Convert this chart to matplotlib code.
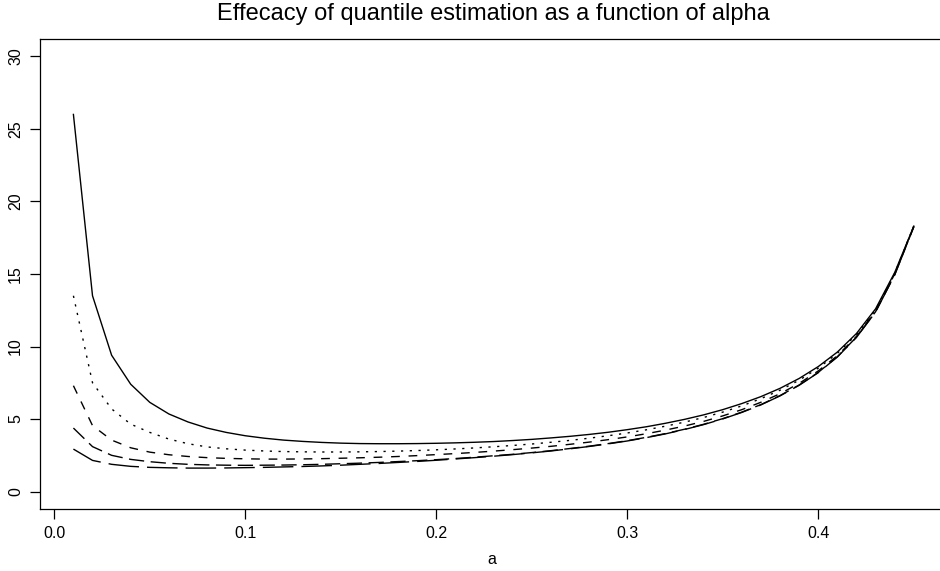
import matplotlib
matplotlib.use("Agg")
import matplotlib.pyplot as plt
import numpy as np

plt.rcParams['font.family'] = ['Liberation Sans', 'DejaVu Sans']

alpha = [0.01, 0.02, 0.03, 0.04, 0.05, 0.06, 0.07, 0.08, 0.09, 0.10,
         0.11, 0.12, 0.13, 0.14, 0.15, 0.16, 0.17, 0.18, 0.19, 0.20,
         0.21, 0.22, 0.23, 0.24, 0.25, 0.26, 0.27, 0.28, 0.29, 0.30,
         0.31, 0.32, 0.33, 0.34, 0.35, 0.36, 0.37, 0.38, 0.39, 0.40,
         0.41, 0.42, 0.43, 0.44, 0.45]

series1 = [26.0, 13.5, 9.4, 7.4, 6.15, 5.35, 4.8, 4.38, 4.08, 3.85,
           3.68, 3.55, 3.46, 3.39, 3.34, 3.31, 3.30, 3.30, 3.31, 3.33,
           3.36, 3.40, 3.45, 3.52, 3.60, 3.70, 3.81, 3.94, 4.09, 4.27,
           4.47, 4.71, 4.98, 5.29, 5.65, 6.07, 6.55, 7.12, 7.80, 8.62,
           9.62, 10.9, 12.6, 15.1, 18.3]

series2 = [13.5, 7.5, 5.7, 4.65, 4.08, 3.62, 3.3, 3.08, 2.95, 2.86,
           2.80, 2.76, 2.74, 2.73, 2.73, 2.74, 2.76, 2.79, 2.83, 2.88,
           2.94, 3.01, 3.09, 3.18, 3.28, 3.40, 3.53, 3.68, 3.85, 4.04,
           4.26, 4.51, 4.79, 5.11, 5.48, 5.91, 6.41, 6.99, 7.68, 8.51,
           9.53, 10.82, 12.52, 15.05, 18.3]

series3 = [7.3, 4.55, 3.55, 3.02, 2.72, 2.54, 2.42, 2.34, 2.29, 2.26,
           2.24, 2.24, 2.25, 2.27, 2.30, 2.33, 2.37, 2.42, 2.48, 2.55,
           2.62, 2.70, 2.79, 2.89, 3.00, 3.12, 3.26, 3.41, 3.58, 3.77,
           3.99, 4.24, 4.52, 4.84, 5.22, 5.65, 6.16, 6.75, 7.46, 8.32,
           9.37, 10.7, 12.45, 15.0, 18.3]

series4 = [4.38, 3.1, 2.5, 2.22, 2.06, 1.95, 1.88, 1.84, 1.82, 1.81,
           1.82, 1.83, 1.85, 1.88, 1.92, 1.96, 2.01, 2.07, 2.13, 2.20,
           2.28, 2.37, 2.47, 2.57, 2.69, 2.82, 2.97, 3.13, 3.31, 3.51,
           3.74, 4.00, 4.30, 4.64, 5.03, 5.48, 6.0, 6.62, 7.35, 8.22,
           9.3, 10.65, 12.4, 14.95, 18.25]

series5 = [2.93, 2.15, 1.88, 1.74, 1.67, 1.64, 1.62, 1.62, 1.63, 1.65,
           1.67, 1.70, 1.73, 1.77, 1.82, 1.88, 1.94, 2.01, 2.08, 2.16,
           2.25, 2.34, 2.44, 2.55, 2.67, 2.80, 2.95, 3.11, 3.29, 3.49,
           3.72, 3.98, 4.28, 4.62, 5.01, 5.46, 5.98, 6.6, 7.33, 8.2,
           9.28, 10.63, 12.38, 14.93, 18.25]

x_ticks = [0.0, 0.1, 0.2, 0.3, 0.4]
x_tick_labels = ["0.0", "0.1", "0.2", "0.3", "0.4"]
y_ticks = [0, 5, 10, 15, 20, 25, 30]
y_tick_labels = ["0", "5", "10", "15", "20", "25", "30"]

title = "Effecacy of quantile estimation as a function of alpha"
xlabel = "a"

W, H = 940, 571
fig = plt.figure(figsize=(W / 100, H / 100), dpi=100)

left_px, right_px, top_px, bottom_px = 39.8, 947.4, 39.0, 509.0
ax = fig.add_axes([left_px / W, (H - bottom_px) / H,
                   (right_px - left_px) / W, (bottom_px - top_px) / H])

styles = [
    '-',
    (0, (1.6, 4.7)),
    (0, (6.3, 6.3)),
    (0, (11.0, 4.7)),
    (0, (22.0, 5.8)),
]
for s, ls in zip([series1, series2, series3, series4, series5], styles):
    ax.plot(alpha, s, color='black', linewidth=1.0, linestyle=ls,
            solid_joinstyle='round', dash_capstyle='butt')

ax.set_xlim(-0.0076, 0.4676)
ax.set_ylim(-1.2, 31.2)

ax.set_xticks(x_ticks)
ax.set_xticklabels(x_tick_labels)
ax.set_yticks(y_ticks)
ax.set_yticklabels(y_tick_labels, rotation=90, va='center')

ax.tick_params(axis='both', direction='out', length=7.0, width=0.9,
               labelsize=11.5, colors='black')
ax.tick_params(axis='x', pad=5.5)
ax.tick_params(axis='y', pad=5.0)

for sp in ax.spines.values():
    sp.set_linewidth(0.9)
    sp.set_color('black')

fig.text(493.6 / W, 1 - 14.0 / H, title, ha='center', va='center',
         fontsize=17)
fig.text(492.0 / W, 1 - 560.0 / H, xlabel, ha='center', va='center',
         fontsize=11.5)

fig.savefig("out.png", dpi=100)
